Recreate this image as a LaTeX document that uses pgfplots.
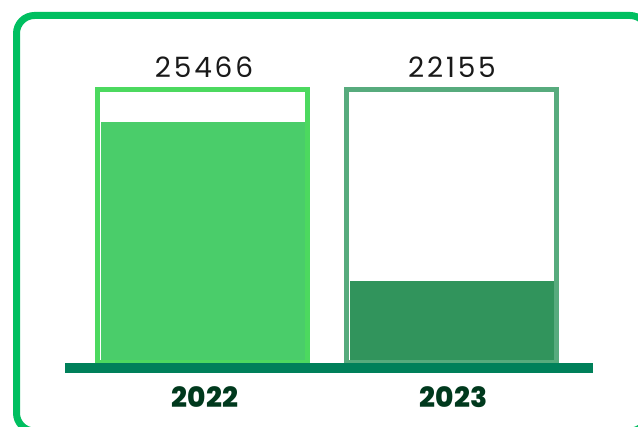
\documentclass[border=0pt]{standalone}
\usepackage{pgfplots}
\pgfplotsset{compat=1.18}
\usepackage{fontspec}
\setmainfont{Poppins}
\newfontfamily\numfont[LetterSpace=10]{Poppins}
\newfontfamily\heavyfont{Poppins ExtraBold}
\definecolor{borderc}{HTML}{00BF60}
\definecolor{outA}{HTML}{4CD95F}
\definecolor{fillA}{HTML}{4ACD6A}
\definecolor{outB}{HTML}{57AB7D}
\definecolor{fillB}{HTML}{31945C}
\definecolor{basec}{HTML}{00805A}
\definecolor{yearc}{HTML}{00391D}
\begin{document}
\begin{tikzpicture}
\begin{axis}[
  scale only axis, width=478.5pt, height=320.25pt,
  xmin=0, xmax=638, ymin=-64, ymax=363,
  hide axis, clip=true,
]
% fill (current level)
\addplot[ybar, bar width=204, fill=fillA, draw=none] coordinates {(203,241)};
\addplot[ybar, bar width=204, fill=fillB, draw=none] coordinates {(452,82)};
% outline (capacity)
\addplot[ybar, bar width=210, fill=none, draw=outA, line width=3.75pt] coordinates {(202.5,273.5)};
\addplot[ybar, bar width=210, fill=none, draw=outB, line width=3.75pt] coordinates {(451.5,273.5)};
% baseline
\addplot[fill=basec, draw=none] coordinates {(65,0) (593,0) (593,-10) (65,-10)} -- cycle;
% labels
\node[font=\numfont\fontsize{21}{24}\selectfont, text=black!90] at (axis cs:204,296) {25466};
\node[font=\numfont\fontsize{21}{24}\selectfont, text=black!90] at (axis cs:452,296) {22155};
\node[font=\heavyfont\fontsize{21}{24}\selectfont, text=yearc] at (axis cs:205,-34) {2022};
\node[font=\heavyfont\fontsize{21}{24}\selectfont, text=yearc] at (axis cs:453.5,-34) {2023};
% rounded frame
\draw[borderc, line width=5.25pt, rounded corners=13.5pt] (axis cs:16.5,347.5) rectangle (axis cs:648,-68);
\coordinate (ll) at (axis cs:0,-64);
\coordinate (ur) at (axis cs:638,363);
\end{axis}
\pgfresetboundingbox
\useasboundingbox (ll) rectangle (ur);
\end{tikzpicture}
\end{document}
